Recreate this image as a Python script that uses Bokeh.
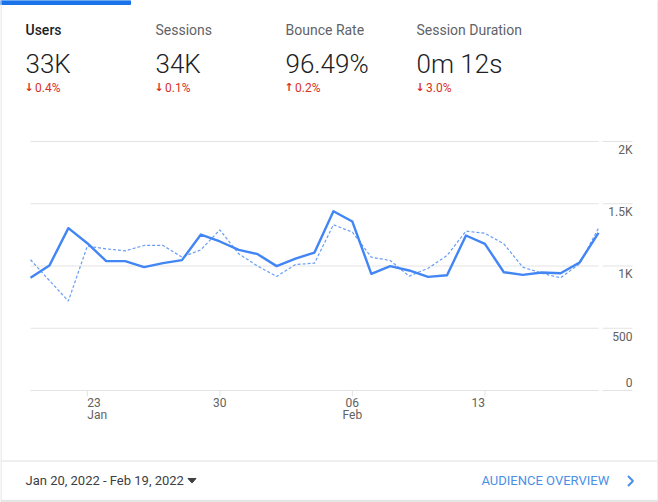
import pandas as pd
from bokeh.plotting import figure
from bokeh.models import Range1d, ColumnDataSource
from bokeh.core.properties import value
from bokeh.embed import file_html
from bokeh.resources import INLINE

# ---------------- data ----------------
start_date = "2022-01-20"
users = [905, 1004, 1304, 1183, 1039, 1039, 991, 1023, 1047, 1253, 1197, 1130, 1095, 999,
         1060, 1108, 1440, 1357, 937, 999, 964, 913, 926, 1245, 1178, 950, 929, 948, 942,
         1028, 1266]
prev_users = [1050, 883, 718, 1159, 1138, 1122, 1165, 1165, 1071, 1130, 1290, 1098, 999,
              916, 1012, 1023, 1331, 1272, 1071, 1044, 918, 982, 1084, 1280, 1263, 1178,
              991, 942, 905, 1018, 1304]
y_ticks = [0, 500, 1000, 1500, 2000]
y_tick_labels = ["0", "500", "1K", "1.5K", "2K"]
x_tick_dates = ["2022-01-23", "2022-01-30", "2022-02-06", "2022-02-13"]
x_tick_days = ["23", "30", "06", "13"]
x_tick_months = ["Jan", "", "Feb", ""]
metric_names = ["Users", "Sessions", "Bounce Rate", "Session Duration"]
metric_values = ["33K", "34K", "96.49%", "0m 12s"]
metric_changes = ["0.4%", "0.1%", "0.2%", "3.0%"]
metric_dirs = ["down", "down", "up", "down"]
date_range_label = "Jan 20, 2022 - Feb 19, 2022"
link_label = "AUDIENCE OVERVIEW"

# ---------------- layout ----------------
W, H = 658, 502
PLOT_L, PLOT_R, PLOT_T, PLOT_B = 30, 598, 141, 390
COL_X = [25, 155, 285, 416]
FONT = value("Roboto")
BLUE = "#4285f4"
GRID = "#e3e3e3"
AXIS_TXT = "#616161"

dates = pd.date_range(start_date, periods=len(users))
ms = dates.values.astype("datetime64[ms]").astype("int64").astype(float)
DAY = 86400000.0
ppd = (PLOT_R - PLOT_L) / (len(users) - 1)
date_rng = Range1d(ms[0] - PLOT_L / ppd * DAY, ms[0] + (W - PLOT_L) / ppd * DAY)
k = y_ticks[-1] / (PLOT_B - PLOT_T)
val_rng = Range1d(-(H - PLOT_B) * k, PLOT_B * k)

p = figure(width=W, height=H, x_range=Range1d(0, W), y_range=Range1d(H, 0),
           min_border=0, toolbar_location=None, output_backend="svg",
           x_axis_type=None, y_axis_type=None)
p.extra_x_ranges = {"date": date_rng}
p.extra_y_ranges = {"val": val_rng}
p.grid.visible = False
p.outline_line_color = None
p.background_fill_color = "white"
p.border_fill_color = "white"

# card chrome
p.quad(left=0, right=130, top=0, bottom=4, color="#1a73e8")
p.segment(x0=[0.5], y0=[0], x1=[0.5], y1=[500], line_color="#dadce0", line_width=1)
p.segment(x0=[657.5], y0=[0], x1=[657.5], y1=[500], line_color="#dadce0", line_width=1)
p.segment(x0=[0], y0=[500.5], x1=[658], y1=[500.5], line_color="#c6c6c6", line_width=1)
p.segment(x0=[0], y0=[501.5], x1=[658], y1=[501.5], line_color="#ececec", line_width=1)
p.segment(x0=[1], y0=[460.5], x1=[657], y1=[460.5], line_color="#e0e0e0", line_width=1)

# header metrics
p.text(x=COL_X[:1], y=[29], text=metric_names[:1], text_font=value("Roboto Medium"),
       text_font_size="14px", text_color="#202124", text_baseline="middle")
p.text(x=COL_X[1:], y=[29] * 3, text=metric_names[1:], text_font=FONT, text_font_size="14px",
       text_color="#5f6368", text_baseline="middle")
p.text(x=COL_X, y=[63] * 4, text=metric_values, text_font=value("Roboto Light"),
       text_font_size="26px", text_color="#202124", text_baseline="middle")
arrows = ["\u2193" if d == "down" else "\u2191" for d in metric_dirs]
p.text(x=[c + 3.5 for c in COL_X], y=[87] * 4, text=arrows, text_font=value("DejaVu Sans"),
       text_font_size="11px", text_font_style="bold", text_color="#d93025",
       text_baseline="middle", text_align="center")
p.text(x=[c + 9.5 for c in COL_X], y=[87] * 4, text=metric_changes, text_font=FONT,
       text_font_size="12px", text_color="#d93025", text_baseline="middle")

# gridlines
p.segment(x0=[ms[0]] * len(y_ticks), x1=[ms[-1]] * len(y_ticks), y0=y_ticks, y1=y_ticks,
          x_range_name="date", y_range_name="val", line_color=GRID, line_width=1)
p.segment(x0=[602] * len(y_ticks), x1=[632] * len(y_ticks), y0=y_ticks, y1=y_ticks,
          y_range_name="val", line_color=GRID, line_width=1)
p.text(x=[632] * 4, y=y_ticks[1:], text=y_tick_labels[1:], y_range_name="val",
       text_font=FONT, text_font_size="12px", text_color=AXIS_TXT,
       text_align="right", text_baseline="middle", y_offset=8)
p.text(x=[632], y=y_ticks[:1], text=y_tick_labels[:1], y_range_name="val",
       text_font=FONT, text_font_size="12px", text_color=AXIS_TXT,
       text_align="right", text_baseline="middle", y_offset=-8)

# x ticks
tick_ms = pd.to_datetime(x_tick_dates).values.astype("datetime64[ms]").astype("int64").astype(float)
p.segment(x0=tick_ms, x1=tick_ms, y0=[PLOT_B] * 4, y1=[PLOT_B + 6] * 4,
          x_range_name="date", line_color=GRID, line_width=1)
aligns = ["left", "center", "center", "right"]
for tm, d, m, a in zip(tick_ms, x_tick_days, x_tick_months, aligns):
    p.text(x=[tm], y=[402], text=[d], x_range_name="date", text_font=FONT,
           text_font_size="12px", text_color=AXIS_TXT, text_align=a, text_baseline="middle")
    if m:
        p.text(x=[tm], y=[414.5], text=[m], x_range_name="date", text_font=FONT,
               text_font_size="12px", text_color=AXIS_TXT, text_align=a,
               text_baseline="middle")

# series
src = ColumnDataSource(dict(x=ms, users=users, prev=prev_users))
p.line(x="x", y="prev", source=src, x_range_name="date", y_range_name="val",
       line_color=BLUE, line_alpha=0.8, line_width=1.2, line_dash="3 2")
p.line(x="x", y="users", source=src, x_range_name="date", y_range_name="val",
       line_color=BLUE, line_width=2.4, line_join="round")

# footer
p.text(x=[25], y=[480], text=[date_range_label], text_font=FONT, text_font_size="13px",
       text_color="#3c4043", text_baseline="middle")
p.patch(x=[187.5, 195.5, 191.5], y=[478, 478, 482.5], color="#3c4043")
LINK = "#4a8fe7"
p.text(x=[481], y=[480], text=[link_label], text_font=FONT, text_font_size="13px",
       text_color=LINK, text_baseline="middle")
p.line(x=[627.5, 632.5, 627.5], y=[475.5, 480.5, 485.5], line_color=LINK, line_width=2)

open("out.html", "w").write(file_html(p, INLINE))
